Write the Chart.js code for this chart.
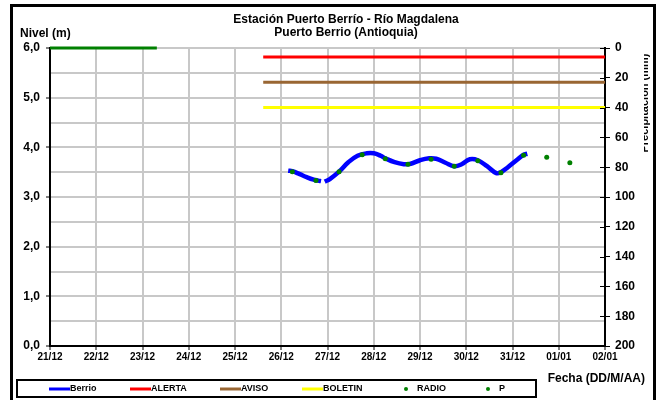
<!DOCTYPE html>
<html>
<head>
<meta charset="utf-8">
<script src="https://cdn.jsdelivr.net/npm/chart.js@4"></script>
<style>
  body { margin: 0; background: #fff; }
  #wrap { width: 660px; height: 400px; }
</style>
</head>
<body>
<div id="wrap"><canvas id="nivelChart" width="660" height="400"></canvas></div>
<script>
// fechas del eje x (un tick por dia, 0 = 21/12)
const fechas = ['21/12', '22/12', '23/12', '24/12', '25/12', '26/12', '27/12', '28/12', '29/12', '30/12', '31/12', '01/01', '02/01'];

// nivel Berrio (dias desde 21/12, metros); null = hueco en la serie
const berrioDias = [5.15, 5.24, 5.40, 5.55, 5.70, 5.80, 5.86, 5.90, 5.94, 6.05, 6.25, 6.45, 6.65, 6.85, 7.00, 7.15, 7.25, 7.45, 7.65, 7.80, 8.00, 8.20, 8.35, 8.55, 8.74, 8.90, 9.08, 9.25, 9.45, 9.65, 9.75, 9.90, 10.10, 10.24, 10.32];
const berrioNivel = [3.53, 3.52, 3.46, 3.40, 3.35, 3.33, 3.32, null, 3.31, 3.36, 3.51, 3.70, 3.83, 3.88, 3.88, 3.83, 3.78, 3.70, 3.66, 3.67, 3.74, 3.78, 3.77, 3.69, 3.62, 3.66, 3.76, 3.74, 3.62, 3.48, 3.50, 3.60, 3.75, 3.85, 3.87];

// lecturas de radio
const radioDias = [5.24, 5.75, 6.25, 6.75, 7.25, 7.74, 8.24, 8.74, 9.25, 9.75, 10.24, 10.74, 11.24];
const radioNivel = [3.51, 3.33, 3.51, 3.85, 3.77, 3.66, 3.76, 3.62, 3.73, 3.49, 3.84, 3.80, 3.69];

// umbrales
const umbralDias = [4.61, 12];
const alerta = [5.82, 5.82];
const aviso = [5.31, 5.31];
const boletin = [4.80, 4.80];

// precipitacion (mm, eje derecho)
const pDias = [0, 2.31];
const pValores = [0, 0];

const pares = (xs, ys) => xs.map((x, i) => ({ x: x, y: ys[i] }));
const fuente = 'Liberation Sans, Arial, sans-serif';

const decoracion = {
    id: 'decoracion',
    afterDraw(chart) {
        const ctx = chart.ctx;
        const y1 = chart.scales.y1;
        ctx.save();

        // cruces del eje derecho
        ctx.strokeStyle = '#000'; ctx.lineWidth = 1;
        y1.ticks.forEach(t => {
            const py = Math.round(y1.getPixelForValue(t.value)) + 0.5;
            ctx.beginPath(); ctx.moveTo(y1.left - 5, py); ctx.lineTo(y1.left, py); ctx.stroke();
        });

        ctx.fillStyle = '#000';
        ctx.textBaseline = 'middle';
        ctx.textAlign = 'center';
        ctx.font = 'bold 12px ' + fuente;
        ctx.fillText('Estación Puerto Berrío - Río Magdalena', 346, 20);
        ctx.fillText('Puerto Berrio (Antioquia)', 346, 33);

        ctx.textAlign = 'left';
        ctx.fillText('Nivel (m)', 20, 34);

        ctx.textAlign = 'right';
        ctx.fillText('Fecha (DD/M/AA)', 645, 379);

        // titulo del eje derecho, recortado como en el original
        ctx.save();
        ctx.beginPath(); ctx.rect(644, 40, 6, 130); ctx.clip();
        ctx.translate(645, 103);
        ctx.rotate(-Math.PI / 2);
        ctx.textAlign = 'center';
        ctx.font = 'bold 11px ' + fuente;
        ctx.fillText('Precipitación (mm)', 0, 0);
        ctx.restore();

        // leyenda
        ctx.lineWidth = 2;
        ctx.strokeStyle = '#000';
        ctx.strokeRect(17, 380, 519, 17);
        const items = [
            { t: 'Berrio', c: '#0000ff', x: 49, linea: true },
            { t: 'ALERTA', c: '#ff0000', x: 130, linea: true },
            { t: 'AVISO', c: '#996633', x: 220, linea: true },
            { t: 'BOLETIN', c: '#ffff00', x: 302, linea: true },
            { t: 'RADIO', c: '#008000', x: 406, linea: false },
            { t: 'P', c: '#008000', x: 488, linea: false }
        ];
        ctx.font = 'bold 9px ' + fuente;
        ctx.textAlign = 'left';
        items.forEach(it => {
            if (it.linea) {
                ctx.strokeStyle = it.c; ctx.lineWidth = 3;
                ctx.beginPath(); ctx.moveTo(it.x, 389); ctx.lineTo(it.x + 21, 389); ctx.stroke();
                ctx.fillStyle = '#000';
                ctx.fillText(it.t, it.x + 21, 389);
            } else {
                ctx.fillStyle = it.c;
                ctx.beginPath(); ctx.arc(it.x, 389, 2, 0, Math.PI * 2); ctx.fill();
                ctx.fillStyle = '#000';
                ctx.fillText(it.t, it.x + 11, 389);
            }
        });

        // marco exterior
        ctx.strokeStyle = '#000'; ctx.lineWidth = 3;
        ctx.strokeRect(11.5, 5.5, 643, 420);
        ctx.restore();
    }
};

new Chart(document.getElementById('nivelChart'), {
    type: 'line',
    data: {
        datasets: [
            { label: 'RADIO', data: pares(radioDias, radioNivel), showLine: false, pointRadius: 2.5, pointBackgroundColor: '#008000', pointBorderWidth: 0, yAxisID: 'y', order: 0 },
            { label: 'Berrio', data: pares(berrioDias, berrioNivel), borderColor: '#0000ff', borderWidth: 4.5, tension: 0.4, pointRadius: 0, spanGaps: false, yAxisID: 'y', order: 1 },
            { label: 'ALERTA', data: pares(umbralDias, alerta), borderColor: '#ff0000', borderWidth: 3, pointRadius: 0, yAxisID: 'y', order: 2 },
            { label: 'AVISO', data: pares(umbralDias, aviso), borderColor: '#996633', borderWidth: 3, pointRadius: 0, yAxisID: 'y', order: 3 },
            { label: 'BOLETIN', data: pares(umbralDias, boletin), borderColor: '#ffff00', borderWidth: 3, pointRadius: 0, yAxisID: 'y', order: 4 },
            { label: 'P', data: pares(pDias, pValores), borderColor: '#008000', borderWidth: 3, pointRadius: 0, yAxisID: 'y1', clip: 4, order: 5 }
        ]
    },
    options: {
        responsive: false,
        animation: false,
        layout: { padding: { top: 48, left: 0, right: 0, bottom: 0 } },
        plugins: { legend: { display: false }, tooltip: { enabled: false } },
        scales: {
            x: {
                type: 'linear', min: 0, max: 12,
                afterFit: s => { s.height = 54; },
                ticks: { stepSize: 1, autoSkip: false, maxRotation: 0, padding: 1, color: '#000', font: { family: fuente, size: 10, weight: 'bold' }, callback: v => fechas[v] || '' },
                grid: { color: '#c8c8c8', lineWidth: 2, tickColor: '#000', tickLength: 4, tickWidth: 1 },
                border: { color: '#000', width: 2 }
            },
            y: {
                position: 'left', min: 0, max: 6,
                afterFit: s => { s.width = 50; },
                ticks: { stepSize: 0.5, padding: 6, color: '#000', font: { family: fuente, size: 12, weight: 'bold' }, callback: v => (v % 1 === 0 ? v.toFixed(1).replace('.', ',') : '') },
                grid: { color: '#c8c8c8', lineWidth: 2, tickLength: 4, tickWidth: 1, tickColor: c => (c.tick && c.tick.value % 1 === 0 ? '#000' : 'rgba(0,0,0,0)') },
                border: { color: '#000', width: 2 }
            },
            y1: {
                position: 'right', min: 0, max: 200, reverse: true,
                afterFit: s => { s.width = 55; },
                ticks: { stepSize: 20, padding: 5, color: '#000', font: { family: fuente, size: 12, weight: 'bold' } },
                grid: { drawOnChartArea: false, tickColor: '#000', tickLength: 5, tickWidth: 1 },
                border: { color: '#000', width: 2 }
            }
        }
    },
    plugins: [decoracion]
});
</script>
</body>
</html>
